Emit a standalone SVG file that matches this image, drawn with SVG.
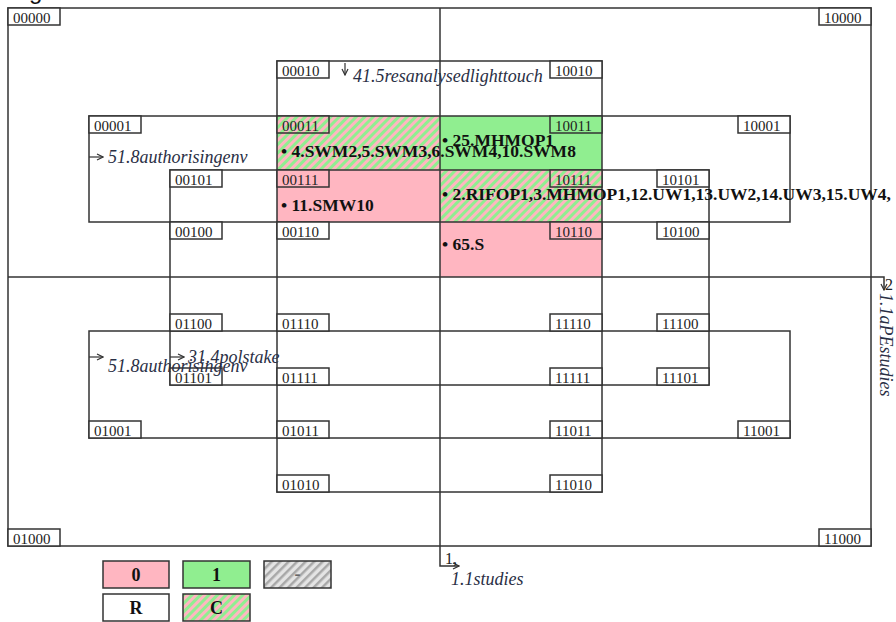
<svg xmlns="http://www.w3.org/2000/svg" width="896" height="622" viewBox="0 0 896 622">
<style>
.ln{fill:none;stroke:#333;stroke-width:1.5}
.lb{fill:#fff;stroke:#333;stroke-width:1.5}
.lt{font-family:"Liberation Serif",serif;font-size:15px;fill:#222}
.bt{font-family:"Liberation Serif",serif;font-size:17.5px;font-weight:bold;fill:#111}
.it{font-family:"Liberation Serif",serif;font-size:18px;font-style:italic;fill:#2a2f45}
.rt{font-family:"Liberation Serif",serif;font-size:16px;fill:#222}
.gt{font-family:"Liberation Serif",serif;font-size:18px;font-weight:bold;fill:#111;text-anchor:middle}
.ar{fill:none;stroke:#333;stroke-width:1.2}
</style>
<defs>
<pattern id="hc" width="6" height="6" patternUnits="userSpaceOnUse" patternTransform="rotate(45)">
<rect width="6" height="6" fill="#90ee90"/><rect width="3" height="6" fill="#ffb6c1"/>
</pattern>
<pattern id="hg" width="6" height="6" patternUnits="userSpaceOnUse" patternTransform="rotate(45)">
<rect width="6" height="6" fill="#e4e4e4"/><rect width="2.5" height="6" fill="#a8a8a8"/>
</pattern>
<marker id="ah" viewBox="0 0 8 8" refX="7" refY="4" markerWidth="8" markerHeight="8" markerUnits="userSpaceOnUse" orient="auto">
<path d="M1,1 L7,4 L1,7" fill="none" stroke="#333" stroke-width="1.2"/>
</marker>
</defs>
<rect width="896" height="622" fill="#fff"/>
<text x="29" y="-1" font-family="Liberation Sans,sans-serif" font-size="24" fill="#111">g</text>

<g id="fills">
<rect x="277" y="116" width="163" height="54" fill="url(#hc)"/>
<rect x="440" y="116" width="162" height="54" fill="#90ee90"/>
<rect x="277" y="170" width="163" height="52" fill="#ffb6c1"/>
<rect x="440" y="170" width="162" height="52" fill="url(#hc)"/>
<rect x="440" y="222" width="162" height="55" fill="#ffb6c1"/>
</g>

<g id="regions">
<rect id="r-outer" class="ln" x="8" y="8" width="863" height="538"/>
<rect id="r-bit4" class="ln" x="277" y="61" width="325" height="431"/>
<rect id="r-bit5-top" class="ln" x="89" y="116" width="701" height="106"/>
<rect id="r-bit5-bottom" class="ln" x="89" y="331" width="701" height="107"/>
<rect id="r-bit3" class="ln" x="170" y="170" width="539" height="215"/>
<line class="ln" x1="440" y1="8" x2="440" y2="546"/>
<line class="ln" x1="8" y1="277" x2="871" y2="277"/>
</g>

<g id="n-00000"><rect class="lb" x="8" y="8" width="52" height="17"/><text class="lt" x="13" y="22.5">00000</text></g>
<g id="n-10000"><rect class="lb" x="819" y="8" width="52" height="17"/><text class="lt" x="824" y="22.5">10000</text></g>
<g id="n-00010"><rect class="lb" x="277" y="61" width="52" height="17"/><text class="lt" x="282" y="75.5">00010</text></g>
<g id="n-10010"><rect class="lb" x="550" y="61" width="52" height="17"/><text class="lt" x="555" y="75.5">10010</text></g>
<g id="n-00001"><rect class="lb" x="89" y="116" width="52" height="17"/><text class="lt" x="94" y="130.5">00001</text></g>
<g id="n-10001"><rect class="lb" x="738" y="116" width="52" height="17"/><text class="lt" x="743" y="130.5">10001</text></g>
<g id="n-00011"><rect class="lb" x="277" y="116" width="52" height="17" style="fill:url(#hc)"/><text class="lt" x="282" y="130.5">00011</text></g>
<g id="n-10011"><rect class="lb" x="550" y="116" width="52" height="17" style="fill:#90ee90"/><text class="lt" x="555" y="130.5">10011</text></g>
<g id="n-00101"><rect class="lb" x="170" y="170" width="52" height="17"/><text class="lt" x="175" y="184.5">00101</text></g>
<g id="n-10101"><rect class="lb" x="657" y="170" width="52" height="17"/><text class="lt" x="662" y="184.5">10101</text></g>
<g id="n-00111"><rect class="lb" x="277" y="170" width="52" height="17" style="fill:#ffb6c1"/><text class="lt" x="282" y="184.5">00111</text></g>
<g id="n-10111"><rect class="lb" x="550" y="170" width="52" height="17" style="fill:url(#hc)"/><text class="lt" x="555" y="184.5">10111</text></g>
<g id="n-00100"><rect class="lb" x="170" y="222" width="52" height="17"/><text class="lt" x="175" y="236.5">00100</text></g>
<g id="n-10100"><rect class="lb" x="657" y="222" width="52" height="17"/><text class="lt" x="662" y="236.5">10100</text></g>
<g id="n-00110"><rect class="lb" x="277" y="222" width="52" height="17"/><text class="lt" x="282" y="236.5">00110</text></g>
<g id="n-10110"><rect class="lb" x="550" y="222" width="52" height="17" style="fill:#ffb6c1"/><text class="lt" x="555" y="236.5">10110</text></g>

<g id="n-01100"><rect class="lb" x="170" y="314" width="52" height="17"/><text class="lt" x="175" y="328.5">01100</text></g>
<g id="n-11100"><rect class="lb" x="657" y="314" width="52" height="17"/><text class="lt" x="662" y="328.5">11100</text></g>
<g id="n-01110"><rect class="lb" x="277" y="314" width="52" height="17"/><text class="lt" x="282" y="328.5">01110</text></g>
<g id="n-11110"><rect class="lb" x="550" y="314" width="52" height="17"/><text class="lt" x="555" y="328.5">11110</text></g>
<g id="n-01101"><rect class="lb" x="170" y="368" width="52" height="17"/><text class="lt" x="175" y="382.5">01101</text></g>
<g id="n-11101"><rect class="lb" x="657" y="368" width="52" height="17"/><text class="lt" x="662" y="382.5">11101</text></g>
<g id="n-01111"><rect class="lb" x="277" y="368" width="52" height="17"/><text class="lt" x="282" y="382.5">01111</text></g>
<g id="n-11111"><rect class="lb" x="550" y="368" width="52" height="17"/><text class="lt" x="555" y="382.5">11111</text></g>
<g id="n-01001"><rect class="lb" x="89" y="421" width="52" height="17"/><text class="lt" x="94" y="435.5">01001</text></g>
<g id="n-11001"><rect class="lb" x="738" y="421" width="52" height="17"/><text class="lt" x="743" y="435.5">11001</text></g>
<g id="n-01011"><rect class="lb" x="277" y="421" width="52" height="17"/><text class="lt" x="282" y="435.5">01011</text></g>
<g id="n-11011"><rect class="lb" x="550" y="421" width="52" height="17"/><text class="lt" x="555" y="435.5">11011</text></g>
<g id="n-01010"><rect class="lb" x="277" y="475" width="52" height="17"/><text class="lt" x="282" y="489.5">01010</text></g>
<g id="n-11010"><rect class="lb" x="550" y="475" width="52" height="17"/><text class="lt" x="555" y="489.5">11010</text></g>
<g id="n-01000"><rect class="lb" x="8" y="529" width="52" height="17"/><text class="lt" x="13" y="543.5">01000</text></g>
<g id="n-11000"><rect class="lb" x="819" y="529" width="52" height="17"/><text class="lt" x="824" y="543.5">11000</text></g>

<g id="cell-texts">
<text class="bt" x="281" y="157">• 4.SWM2,5.SWM3,6.SWM4,10.SWM8</text>
<text class="bt" x="442" y="146">• 25.MHMOP1</text>
<text class="bt" x="281" y="211">• 11.SMW10</text>
<text class="bt" x="442" y="200">• 2.RIFOP1,3.MHMOP1,12.UW1,13.UW2,14.UW3,15.UW4,</text>
<text class="bt" x="442" y="250">• 65.S</text>
</g>

<g id="connectors">
<path class="ar" d="M345,63 V75" marker-end="url(#ah)"/>
<path class="ar" d="M89,157 H103" marker-end="url(#ah)"/>
<path class="ar" d="M89,357 H103" marker-end="url(#ah)"/>
<path class="ar" d="M170,357 H184" marker-end="url(#ah)"/>
<path class="ln" d="M440,546 V566 H459" marker-end="url(#ah)"/>
<path class="ln" d="M871,277 H884 V290" marker-end="url(#ah)"/>
</g>

<g id="labels">
<text class="it" x="353" y="82">41.5resanalysedlighttouch</text>
<text class="it" x="108" y="163">51.8authorisingenv</text>
<text class="it" x="108" y="372">51.8authorisingenv</text>
<text class="it" x="188" y="363">31.4polstake</text>
<text class="rt" x="445" y="564">1,</text>
<text class="it" x="451" y="585">1.1studies</text>
<text class="rt" x="885" y="290">2</text>
<text class="it" transform="translate(880,293) rotate(90)">1.1aPEstudies</text>
</g>

<g id="legend">
<g id="lg-0"><rect class="lb" x="103" y="561" width="66" height="27" style="fill:#ffb6c1"/><text class="gt" x="136" y="581">0</text></g>
<g id="lg-1"><rect class="lb" x="183" y="561" width="67" height="27" style="fill:#90ee90"/><text class="gt" x="216.5" y="581">1</text></g>
<g id="lg-dash"><rect class="lb" x="264" y="561" width="67" height="27" style="fill:url(#hg)"/><text class="gt" x="297.5" y="580" style="fill:#666">-</text></g>
<g id="lg-R"><rect class="lb" x="103" y="594" width="66" height="27"/><text class="gt" x="136" y="614">R</text></g>
<g id="lg-C"><rect class="lb" x="183" y="594" width="67" height="27" style="fill:url(#hc)"/><text class="gt" x="216.5" y="614">C</text></g>
</g>
</svg>
